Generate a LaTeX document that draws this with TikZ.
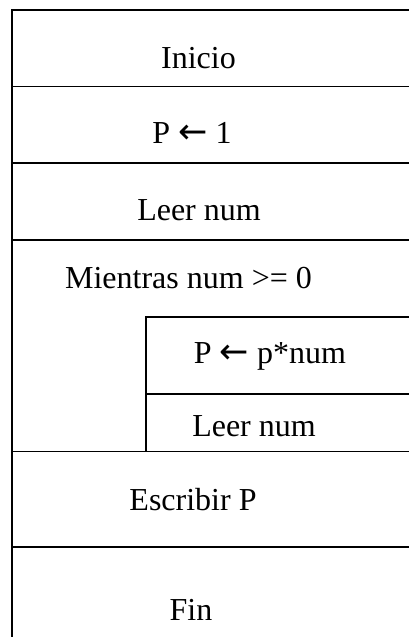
\documentclass[tikz,border=0pt]{standalone}
\usepackage{fontspec}
\setmainfont{Liberation Serif}
\newfontfamily\arrowfont{DejaVu Sans}
\newcommand{\lto}{{\arrowfont\fontsize{35}{38}\selectfont ←}}
\begin{document}
\begin{tikzpicture}[x=1pt,y=-1pt,
  rule/.style={line width=1.7pt, line cap=rect},
  lbl/.style={font=\fontsize{32}{38}\selectfont, inner sep=0pt, anchor=base}]
\useasboundingbox (0,0) rectangle (408,637);
% frame corners
\coordinate (tl) at (12,10);
\coordinate (tr) at (408,10);
\coordinate (bl) at (12,637);
\draw[rule] (tr) -- (tl) -- (bl);
% separators
\foreach \yy/\nm in {86.5/a,163/b,240/c,451.5/d,547/e}{
  \coordinate (\nm L) at (12,\yy);
  \coordinate (\nm R) at (408,\yy);
  \draw[rule] (\nm L) -- (\nm R);
}
% inner loop box
\coordinate (ib) at (146,451.5);
\coordinate (it) at (146,317);
\coordinate (itr) at (408,317);
\coordinate (im) at (146,394);
\coordinate (imr) at (408,394);
\draw[rule] (ib) -- (it) -- (itr);
\draw[rule] (im) -- (imr);
% texts
\node[lbl] (inicio) at (198.5,68) {Inicio};
\node[lbl] (p1) at (192,143) {P \lto{} 1};
\node[lbl] (leer1) at (199,220) {Leer num};
\node[lbl] (mientras) at (188.5,288) {Mientras num >= 0};
\node[lbl] (pnum) at (270,363) {P \lto{} p*num};
\node[lbl] (leer2) at (254,436) {Leer num};
\node[lbl] (escribir) at (193,510) {Escribir P};
\node[lbl] (fin) at (191,620) {Fin};
\end{tikzpicture}
\end{document}
